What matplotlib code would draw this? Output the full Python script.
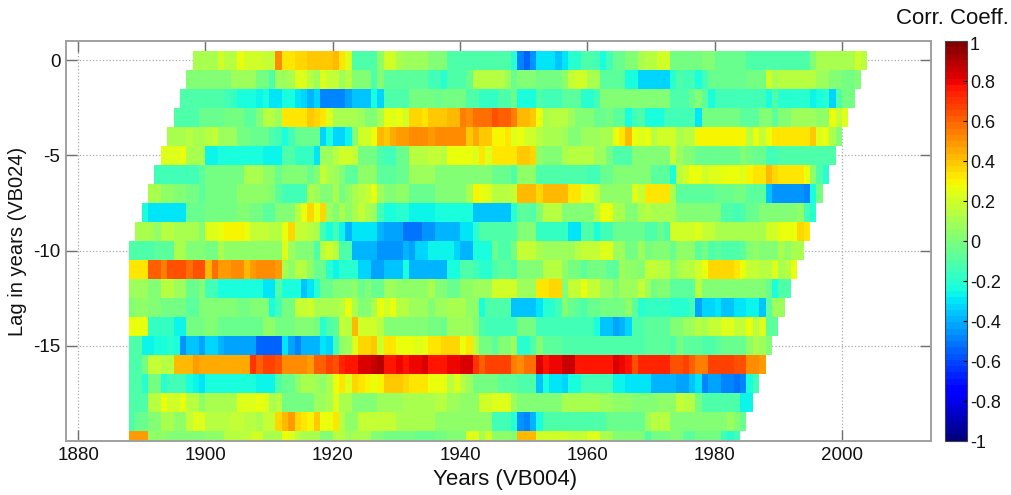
import matplotlib
matplotlib.use('Agg')
import matplotlib.pyplot as plt
from matplotlib.transforms import ScaledTranslation

plt.rcParams['font.family'] = ['Liberation Sans', 'DejaVu Sans']
plt.rcParams['axes.unicode_minus'] = False

# each row: (start year, corr value) runs, last year of the row is in row_ends
lag_0 = [(1898,.12),(1902,.2),(1903,.15),(1905,.25),(1906,.2),(1909,.17),(1911,.5),(1912,.33),(1914,.36),(1916,.4),(1918,.38),(1920,.42),(1921,.33),(1922,.24),
         (1923,-.1),(1927,.05),(1928,.2),(1930,.12),(1931,.08),(1935,.03),(1936,0),(1938,-.12),(1948,-.2),(1949,-.5),(1950,-.55),(1951,-.45),(1952,-.3),(1955,-.35),(1956,-.3),(1957,-.2),(1959,-.1),(1961,-.15),(1962,-.25),(1963,-.15),(1964,-.05),(1966,.03),(1968,.1),
         (1969,.15),(1971,.2),(1973,-.02),(1978,0),(1980,-.05),(1985,-.12),(1995,0),(1996,.12),(2002,.2),(2003,.14)]
lag_1 = [(1897,0),(1902,.03),(1904,.07),(1908,-.03),(1910,-.1),(1911,.07),(1913,.12),(1914,.22),(1916,.13),(1917,.09),(1918,.22),(1919,.18),(1921,.08),(1922,.15),
         (1923,.03),(1926,-.1),(1927,0),(1928,-.08),(1935,-.13),(1937,-.2),(1938,-.12),(1941,-.05),(1942,.13),(1947,.08),(1948,-.05),(1949,0),(1950,.03),(1952,-.02),(1956,.05),(1957,.17),(1958,.21),(1960,.12),(1961,.1),(1962,-.08),(1966,-.22),(1968,-.32),
         (1969,-.32),(1973,-.2),(1974,-.1),(1975,-.15),(1977,-.25),(1978,-.15),(1979,-.05),(1985,-.02),(1988,.2),(1989,.12),(1990,.15),(1993,.13),(1996,.07),(1998,.03),(2000,-.02),(2002,.03)]
lag_2 = [(1896,-.1),(1903,-.13),(1904,-.17),(1905,-.22),(1908,-.27),(1909,-.22),(1910,-.3),(1912,-.25),(1913,-.22),(1914,-.3),(1915,-.33),(1916,-.4),(1917,-.33),(1918,-.47),(1922,-.42),
         (1923,-.35),(1926,-.22),(1927,-.32),(1928,-.12),(1932,-.03),(1936,-.06),(1937,-.02),(1941,-.1),(1943,-.18),(1946,-.1),(1948,-.06),(1949,-.22),(1952,-.1),(1953,-.13),(1956,-.07),(1959,-.2),(1961,-.15),(1962,.02),(1968,0),
         (1969,.03),(1973,-.1),(1976,-.06),(1977,.03),(1978,-.08),(1979,-.22),(1980,-.14),(1988,-.22),(1989,-.12),(1990,-.2),(1995,-.27),(1996,-.22),(1997,-.2),(1998,-.33),(1999,-.1),(2000,-.03)]
lag_3 = [(1895,-.1),(1899,-.05),(1903,-.03),(1906,-.07),(1908,0),(1909,.14),(1911,.07),(1912,.33),(1916,.38),(1917,.36),(1918,.32),(1919,.22),(1920,.12),
         (1923,.1),(1924,.08),(1925,.03),(1927,.12),(1928,.25),(1929,.22),(1930,.25),(1931,.2),(1932,.37),(1934,.33),(1935,.4),(1937,.38),(1938,.42),(1940,.55),(1941,.5),(1942,.58),(1945,.65),(1946,.6),(1948,.55),(1949,.43),(1951,.38),(1952,.25),(1953,.12),(1954,.13),(1957,.08),(1958,.03),(1961,-.05),(1963,-.03),(1964,-.08),(1965,-.07),(1966,-.22),(1967,-.15),(1968,-.1),
         (1969,-.22),(1970,-.25),(1971,-.22),(1972,-.15),(1977,-.3),(1978,-.02),(1984,-.08),(1987,0),(1989,-.08),(1990,0),(1992,.08),(1996,.05),(1998,.28),(1999,.17),(2000,.23)]
lag_4 = [(1894,.1),(1897,.15),(1898,.12),(1900,.15),(1901,.17),(1902,.08),(1903,.07),(1905,-.02),(1907,-.05),(1910,-.1),(1911,-.15),(1912,-.25),(1913,-.15),(1914,-.05),(1918,-.32),(1919,-.25),(1920,-.32),(1922,-.27),
         (1923,.03),(1924,.2),(1926,.25),(1927,.42),(1928,.38),(1929,.45),(1930,.47),(1931,.48),(1932,.52),(1935,.47),(1936,.5),(1937,.52),(1939,.5),(1940,.52),(1941,.4),(1942,.45),(1943,.38),(1945,.3),(1947,.33),(1948,.22),(1949,.25),(1950,.2),(1952,.15),(1953,.12),(1956,.07),(1957,.03),(1959,.07),(1962,.12),(1964,.27),(1965,.33),(1966,.42),(1967,.27),(1968,.22),
         (1969,.25),(1970,.15),(1971,.2),(1974,.12),(1975,.15),(1977,.3),(1985,.13),(1986,.25),(1987,.17),(1988,.27),(1989,.32),(1995,.4),(1996,.22),(1997,.28),(1998,.12),(1999,.03)]
lag_5 = [(1893,.22),(1896,.25),(1897,.12),(1900,-.28),(1902,-.22),(1904,-.25),(1907,-.24),(1909,-.28),(1912,-.12),(1914,-.17),(1917,-.3),(1918,.07),(1920,.14),(1921,.2),
         (1923,.17),(1924,-.02),(1927,-.1),(1928,-.15),(1930,-.05),(1932,.13),(1935,.17),(1937,.13),(1938,.25),(1942,.22),(1943,.32),(1944,.23),(1945,.33),(1949,.4),(1951,.35),(1952,.05),(1953,0),(1956,.1),(1957,.13),(1961,.08),(1963,-.02),(1964,-.12),(1967,0),
         (1969,.03),(1970,.02),(1973,.17),(1974,.08),(1975,.03),(1977,-.05),(1984,.02),(1985,-.03),(1986,-.05),(1988,-.15),(1990,-.12),(1995,-.1)]
lag_6 = [(1892,-.13),(1899,-.07),(1900,-.02),(1906,.1),(1909,.05),(1911,-.05),(1912,0),(1916,-.05),(1917,.03),(1918,.17),(1919,.1),(1920,.08),(1921,0),(1922,-.08),
         (1924,.05),(1927,-.08),(1930,-.05),(1932,.07),(1936,.03),(1937,0),(1943,.03),(1945,-.05),(1948,-.1),(1949,.05),(1952,-.1),(1960,-.15),(1962,-.05),(1964,0),
         (1969,.01),(1970,-.08),(1973,-.25),(1974,.15),(1975,.2),(1976,.25),(1978,.2),(1979,.22),(1981,.25),(1983,.27),(1984,.23),(1985,.3),(1986,.33),(1988,.42),(1989,.36),(1990,.33),(1994,.27),(1995,.05),(1996,-.1),(1997,-.2)]
lag_7 = [(1891,.1),(1893,.05),(1895,0),(1897,-.03),(1899,-.07),(1900,-.02),(1905,.05),(1910,0),(1911,-.07),(1912,-.13),(1916,.1),(1917,.07),(1918,0),(1920,.12),(1921,-.02),(1922,.05),
         (1923,.12),(1924,.15),(1925,.17),(1926,.27),(1927,.07),(1928,0),(1930,.05),(1932,-.05),(1936,.03),(1941,.1),(1942,.3),(1943,.25),(1944,.22),(1945,.13),(1947,.15),(1948,.18),(1949,.42),(1952,.37),(1953,.42),(1957,.33),(1959,.23),(1961,.17),(1962,.05),(1967,.22),(1968,.17),
         (1969,.32),(1973,.1),(1974,-.08),(1980,-.05),(1983,-.02),(1985,-.08),(1988,-.35),(1989,-.45),(1994,-.5),(1995,-.22),(1996,-.03)]
lag_8 = [(1890,-.22),(1891,-.3),(1897,-.05),(1900,-.03),(1905,0),(1907,-.03),(1909,-.07),(1911,0),(1914,.13),(1915,.28),(1916,.37),(1917,.28),(1918,.35),(1919,.08),(1920,.03),(1921,.12),(1922,.05),
         (1923,.12),(1924,.17),(1925,.1),(1926,.08),(1927,-.15),(1928,-.25),(1930,-.2),(1932,-.27),(1936,-.25),(1942,-.35),(1948,-.2),(1949,-.07),(1951,-.12),(1952,0),(1953,.13),(1956,.03),(1959,0),(1961,.13),(1962,.25),(1964,.1),(1966,.03),(1968,.12),
         (1969,.13),(1970,.1),(1974,.02),(1981,-.1),(1983,-.15),(1984,-.1),(1985,-.05),(1987,0),(1991,.03),(1993,.05),(1994,-.13),(1995,-.2)]
lag_9 = [(1889,.12),(1892,.05),(1893,.15),(1895,.12),(1899,.03),(1900,.22),(1902,.25),(1903,.3),(1906,.27),(1907,.18),(1910,.15),(1912,.26),(1913,.35),(1914,.17),(1916,.13),(1917,.1),(1918,-.15),(1919,-.25),(1920,-.15),(1921,-.28),(1922,-.4),
         (1923,-.3),(1927,-.38),(1928,-.42),(1931,-.52),(1934,-.45),(1936,-.38),(1940,-.3),(1942,-.2),(1943,-.12),(1949,.03),(1952,-.18),(1957,-.3),(1959,-.1),(1961,-.22),(1962,-.15),(1964,-.05),
         (1969,-.1),(1971,-.05),(1972,-.12),(1973,.2),(1977,.23),(1978,.16),(1980,.12),(1982,.1),(1986,.12),(1988,.2),(1990,.25),(1991,.27),(1993,.37),(1994,.32)]
lag_10 = [(1888,-.1),(1892,-.07),(1895,.1),(1897,.01),(1900,-.02),(1902,.1),(1903,.05),(1912,.22),(1913,.08),(1914,.02),(1917,-.1),(1918,.15),(1919,.2),(1920,.13),(1921,-.12),
          (1923,-.4),(1925,-.38),(1927,-.45),(1931,-.38),(1932,-.42),(1933,-.33),(1935,-.27),(1939,-.32),(1940,-.4),(1942,-.22),(1945,-.05),(1946,-.12),(1948,-.03),(1949,.17),(1952,.12),(1953,.07),(1958,.15),(1959,.17),(1962,.24),(1964,.07),(1966,-.03),(1968,.07),
          (1969,-.03),(1970,0),(1973,-.05),(1974,.05),(1977,-.07),(1978,-.02),(1979,-.12),(1980,-.07),(1981,-.1),(1984,-.07),(1985,0),(1986,.05),(1987,.02),(1988,.03),(1990,.1),(1991,.05),(1992,.1)]
lag_11 = [(1888,.33),(1891,.62),(1893,.55),(1894,.65),(1897,.58),(1898,.63),(1900,.43),(1901,.58),(1902,.47),(1904,.5),(1906,.42),(1907,.47),(1908,.52),(1911,.47),(1912,.1),(1913,.05),(1914,.15),(1916,.05),(1917,-.05),(1919,-.2),(1920,-.28),(1921,-.2),
          (1924,-.33),(1926,-.42),(1928,-.35),(1931,-.25),(1932,-.4),(1938,-.25),(1940,-.12),(1942,-.15),(1943,-.2),(1945,-.12),(1946,-.07),(1948,-.12),(1949,0),(1953,.13),(1956,.05),(1957,-.03),(1959,-.08),(1960,-.02),(1963,-.07),(1965,.08),(1966,.05),(1968,.03),
          (1969,.17),(1971,.13),(1973,.05),(1974,.1),(1975,.14),(1977,.2),(1978,.28),(1979,.36),(1983,.33),(1984,.25),(1985,.17),(1987,.14),(1989,.23),(1990,.12),(1991,.15),(1992,.25)]
lag_12 = [(1888,.08),(1891,.02),(1893,.13),(1895,.08),(1897,-.05),(1899,.03),(1900,-.15),(1902,-.22),(1909,-.3),(1911,-.1),(1912,-.25),(1915,-.35),(1916,-.3),(1917,-.2),(1918,-.05),(1920,0),(1922,.03),
          (1923,.05),(1924,-.05),(1925,.02),(1926,-.05),(1928,.08),(1930,.05),(1931,.06),(1935,.1),(1936,.02),(1938,-.05),(1940,.05),(1942,.08),(1945,.2),(1949,.07),(1952,.33),(1954,.37),(1956,.03),(1957,.18),(1959,.25),(1960,.17),(1962,.08),(1964,.02),(1965,.07),(1968,.17),
          (1969,.08),(1970,-.03),(1971,0),(1973,-.07),(1977,.13),(1978,.02),(1983,.03),(1986,0),(1988,-.05),(1989,-.22),(1990,-.1)]
lag_13 = [(1888,.03),(1889,.04),(1891,.01),(1893,-.03),(1897,-.08),(1899,0),(1905,-.03),(1907,0),(1910,-.25),(1911,-.15),(1912,-.02),(1914,.18),(1916,.2),(1917,.1),(1921,.15),(1922,.25),
          (1923,.1),(1924,.03),(1926,.12),(1927,.27),(1928,.2),(1929,.25),(1930,.14),(1932,.07),(1935,.03),(1936,.07),(1938,.1),(1941,.05),(1943,-.22),(1944,-.12),(1948,-.35),(1952,-.3),(1953,-.2),(1955,-.13),(1956,.02),(1957,-.05),(1958,-.08),(1959,-.1),(1960,-.05),(1962,-.03),(1966,.05),(1967,-.07),(1968,-.2),
          (1969,-.17),(1973,-.2),(1976,-.15),(1977,-.42),(1978,-.33),(1980,-.3),(1981,-.37),(1983,-.3),(1985,-.27),(1987,-.35),(1988,-.07),(1989,.07)]
lag_14 = [(1888,.25),(1891,-.17),(1895,-.27),(1897,-.02),(1900,.02),(1902,-.05),(1909,.05),(1911,-.02),(1914,.02),(1917,-.03),(1918,-.2),(1919,-.1),(1920,-.07),(1921,.18),(1922,.15),
          (1923,.42),(1924,.2),(1927,.13),(1928,.03),(1935,-.03),(1937,-.05),(1938,.07),(1942,.03),(1943,-.1),(1944,-.13),(1949,-.02),(1952,-.15),(1961,-.22),(1962,-.35),(1964,-.42),(1965,-.38),(1966,-.32),(1967,-.1),
          (1969,-.08),(1973,.02),(1975,.07),(1977,.13),(1978,.1),(1979,.17),(1981,.22),(1983,.18),(1985,.25),(1986,.15),(1987,.22),(1988,-.08)]
lag_15 = [(1888,-.12),(1890,-.27),(1892,-.25),(1893,-.22),(1894,-.2),(1895,-.25),(1896,-.45),(1897,-.35),(1899,-.42),(1900,-.33),(1902,-.4),(1903,-.43),(1908,-.55),(1912,-.3),(1913,-.42),(1914,-.48),(1915,-.4),(1918,-.3),(1919,-.33),(1920,-.15),(1921,.05),(1922,.08),
          (1923,.22),(1924,.35),(1926,.4),(1927,.2),(1928,.33),(1930,.28),(1931,.25),(1933,.22),(1934,.25),(1935,.33),(1937,.36),(1940,.27),(1941,.32),(1942,.15),(1943,-.03),(1945,-.08),(1946,0),(1948,.07),(1949,-.2),(1951,-.12),(1952,.03),(1953,-.07),(1956,-.1),
          (1969,-.07),(1973,-.12),(1974,-.02),(1975,-.08),(1978,-.1),(1979,-.12),(1980,-.07),(1981,-.05),(1985,.05),(1986,.12),(1987,.07),(1988,.02)]
lag_16 = [(1888,-.1),(1890,-.03),(1891,.18),(1893,.13),(1895,.43),(1898,.48),(1899,.45),(1903,.46),(1907,.7),(1908,.62),(1909,.68),(1911,.65),(1912,.52),(1914,.5),(1916,.47),(1917,.62),(1919,.68),(1920,.65),(1921,.72),(1922,.77),
          (1923,.78),(1924,.82),(1926,.85),(1927,.88),(1928,.77),(1930,.8),(1931,.75),(1932,.8),(1934,.82),(1935,.78),(1938,.8),(1940,.82),(1942,.7),(1943,.62),(1944,.66),(1945,.68),(1948,.55),(1949,.5),(1950,.58),(1952,.82),(1953,.78),(1954,.8),(1956,.85),(1958,.78),(1960,.75),(1964,.82),(1965,.8),(1966,.78),(1967,.65),(1968,.72),
          (1973,.63),(1975,.67),(1976,.62),(1977,.55),(1979,.68),(1983,.65),(1985,.52),(1987,.48)]
lag_17 = [(1888,-.12),(1890,-.2),(1891,-.03),(1893,-.2),(1894,-.15),(1897,-.22),(1898,-.27),(1899,-.3),(1900,-.22),(1908,-.27),(1911,-.1),(1912,-.05),(1914,.05),(1915,.1),(1917,.08),(1918,.05),(1919,.1),(1920,.25),(1921,.33),(1922,.22),
          (1923,.35),(1924,.33),(1925,.3),(1926,.27),(1927,.3),(1928,.38),(1931,.35),(1932,.32),(1935,.28),(1936,.25),(1938,.15),(1939,.24),(1940,.15),(1941,.08),(1942,-.02),(1946,-.07),(1949,-.1),(1952,-.35),(1953,-.25),(1954,-.3),(1956,-.33),(1957,-.25),(1959,-.15),(1964,-.27),(1966,-.3),
          (1970,-.38),(1974,-.42),(1976,-.35),(1977,-.3),(1978,-.5),(1979,-.43),(1981,-.47),(1983,-.52),(1984,-.47),(1985,-.22),(1986,-.13)]
lag_18 = [(1888,-.12),(1891,.15),(1893,.25),(1894,.2),(1896,.25),(1897,.13),(1899,.05),(1900,.12),(1902,.1),(1905,.22),(1907,.24),(1908,.28),(1909,.22),(1910,.1),(1911,.15),(1912,-.03),(1917,.08),(1919,.1),(1920,.22),(1921,.12),
          (1923,0),(1926,.03),(1927,.07),(1931,.1),(1933,.12),(1936,.15),(1938,.08),(1940,.05),(1943,.2),(1945,.23),(1948,.07),(1949,.03),(1956,.12),(1957,.1),(1962,.08),(1964,.06),(1967,.03),
          (1970,0),(1971,.05),(1974,.17),(1975,.15),(1977,-.03),(1978,-.1),(1984,-.28)]
lag_19 = [(1888,-.1),(1889,-.05),(1891,.02),(1893,.1),(1895,.05),(1897,.18),(1898,.22),(1900,.15),(1902,.13),(1904,.17),(1906,.15),(1908,.1),(1909,.18),(1911,.35),(1912,.42),(1913,.48),(1914,.35),(1915,.32),(1916,.3),(1917,.38),(1918,.25),(1920,.33),(1921,.15),(1922,.05),
          (1924,.18),(1930,.12),(1931,.1),(1936,.05),(1945,-.15),(1948,-.2),(1949,-.45),(1950,-.5),(1951,-.4),(1952,-.22),(1953,-.12),(1959,-.1),(1963,-.05),
          (1969,.07),(1970,.15),(1973,.03),(1976,0),(1978,.02),(1982,.07),(1983,0),(1984,-.05)]
lag_20 = [(1888,.47),(1891,.05),(1894,.02),(1895,.03),(1900,.05),(1903,.13),(1907,.2),(1909,.12),(1912,.28),(1913,.22),(1914,.15),(1915,.12),(1917,.1),(1918,.03),(1920,.13),(1922,.08),
          (1923,.1),(1926,.03),(1928,-.03),(1933,-.05),(1936,-.02),(1938,0),(1941,.24),(1943,.12),(1944,.2),(1945,.05),(1948,0),(1949,.42),(1952,.2),(1957,.16),(1960,.22),(1962,.1),(1964,.03),
          (1969,-.1),(1970,-.03),(1973,0),(1975,-.07),(1977,-.03),(1981,-.15),(1982,-.2),(1983,-.15)]

rows = [lag_0, lag_1, lag_2, lag_3, lag_4, lag_5, lag_6, lag_7, lag_8, lag_9, lag_10,
        lag_11, lag_12, lag_13, lag_14, lag_15, lag_16, lag_17, lag_18, lag_19, lag_20]
lags = [0, -1, -2, -3, -4, -5, -6, -7, -8, -9, -10, -11, -12, -13, -14, -15, -16, -17, -18, -19, -20]
row_ends = [2004, 2003, 2002, 2001, 2000, 1999, 1998, 1997, 1996, 1995, 1994, 1993, 1992, 1991, 1990, 1989, 1988, 1987, 1986, 1985, 1984]

x_ticks = [1880, 1900, 1920, 1940, 1960, 1980, 2000]
y_ticks = [0, -5, -10, -15]
cbar_ticks = [-1, -0.8, -0.6, -0.4, -0.2, 0, 0.2, 0.4, 0.6, 0.8, 1]
cbar_labels = ['-1', '-0.8', '-0.6', '-0.4', '-0.2', '0', '0.2', '0.4', '0.6', '0.8', '1']

gray = '#a0a0a0'
text_color = '#111111'
fs = 13.5

fig = plt.figure(figsize=(10.12, 4.95), dpi=100)
ax = fig.add_axes([66 / 1012, 54 / 495, 865 / 1012, 400 / 495])
cmap = plt.get_cmap('jet', 64)

for lag, row, end in zip(lags, rows, row_ends):
    edges = [r[0] for r in row] + [end]
    vals = [r[1] for r in row]
    mesh = ax.pcolormesh(edges, [lag + 0.5, lag - 0.5], [vals], cmap=cmap, vmin=-1, vmax=1, zorder=2)

ax.set_xlim(1878.1, 2014)
ax.set_ylim(-20, 1)
ax.set_xticks(x_ticks)
ax.set_yticks(y_ticks)
ax.grid(True, linestyle=':', color='#aaaaaa', linewidth=0.9, zorder=1)
ax.set_axisbelow(True)
ax.tick_params(direction='in', top=True, right=True, length=8, width=1, color='#707070',
               labelsize=fs, labelcolor=text_color, pad=4)
for s in ax.spines.values():
    s.set_color(gray)
    s.set_linewidth(1.4)
ax.set_xlabel('Years (VB004)', fontsize=16, color=text_color, va='center')
ax.xaxis.set_label_coords(0.5075, -0.0975)
ax.set_ylabel('Lag in years (VB024)', fontsize=14.5, color=text_color, va='center')
ax.yaxis.set_label_coords(-0.0555, 0.5)

cax = fig.add_axes([945 / 1012, 54 / 495, 22 / 1012, 400 / 495])
cb = fig.colorbar(mesh, cax=cax, ticks=cbar_ticks)
cb.ax.set_yticklabels(cbar_labels)
cb.ax.tick_params(direction='in', length=3, width=0.8, labelsize=13, labelcolor=text_color, pad=2)
cb.outline.set_edgecolor('#444444')
cb.outline.set_linewidth(0.8)
# the top label sits a little lower than its tick in the reference
top_label = cb.ax.get_yticklabels()[-1]
top_label.set_transform(top_label.get_transform() + ScaledTranslation(0, -3 / 100, fig.dpi_scale_trans))

fig.text(952 / 1012, 1 - 19 / 495, 'Corr. Coeff.', fontsize=16, color=text_color, ha='center', va='center')

fig.savefig('out.png', dpi=100)
